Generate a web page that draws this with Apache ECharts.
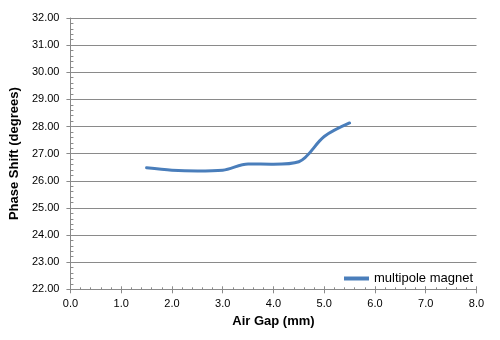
<!DOCTYPE html>
<html>
<head>
<meta charset="utf-8">
<script src="https://cdn.jsdelivr.net/npm/echarts@6/dist/echarts.min.js"></script>
<style>
  html, body { margin: 0; padding: 0; background: #fff; }
  #chart { width: 500px; height: 340px; }
</style>
</head>
<body>
<div id="chart"></div>
<script>
// Phase shift measured against air gap
const airGap = [1.5, 2.0, 2.5, 3.0, 3.5, 4.0, 4.5, 5.0, 5.5];
const phaseShift = [26.48, 26.39, 26.36, 26.39, 26.62, 26.61, 26.70, 27.63, 28.13];
const seriesName = 'multipole magnet';

const font = 'Liberation Sans, Arial, sans-serif';
const gridColor = '#8a8a8a';

// A second, label-less copy of each axis draws the inner tick marks,
// so major ticks cross the axis line and minor ticks sit inside the plot.
const xRange = { type: 'value', min: 0, max: 8, interval: 1 };
const yRange = { type: 'value', min: 22, max: 32, interval: 1 };

const chart = echarts.init(document.getElementById('chart'), null, { renderer: 'canvas' });
chart.setOption({
  animation: false,
  backgroundColor: '#ffffff',
  grid: { left: 67, top: 18, right: 23.5, bottom: 50.7, containLabel: false },
  legend: {
    data: [{ name: seriesName, icon: 'rect' }],
    right: 22,
    top: 267,
    itemWidth: 25,
    itemHeight: 4,
    itemGap: 6,
    textStyle: { fontFamily: font, fontSize: 13, color: '#000' }
  },
  xAxis: [{
    ...xRange,
    position: 'bottom',
    name: 'Air Gap (mm)',
    nameLocation: 'middle',
    nameGap: 26,
    nameTextStyle: { fontFamily: font, fontSize: 13, fontWeight: 'bold', color: '#000' },
    axisLine: { show: true, lineStyle: { color: gridColor, width: 1 } },
    axisTick: { show: true, length: 4, lineStyle: { color: gridColor } },
    splitLine: { show: false },
    axisLabel: {
      fontFamily: font, fontSize: 11, color: '#000', margin: 9,
      formatter: v => v.toFixed(1)
    }
  }, {
    ...xRange,
    position: 'bottom',
    axisLine: { show: false },
    axisLabel: { show: false },
    splitLine: { show: false },
    axisTick: { show: true, inside: true, length: 3, lineStyle: { color: gridColor } },
    minorTick: { show: true, splitNumber: 5, length: 2, lineStyle: { color: gridColor } }
  }],
  yAxis: [{
    ...yRange,
    position: 'left',
    name: 'Phase Shift (degrees)',
    nameLocation: 'middle',
    nameGap: 40,
    nameRotate: 90,
    nameTextStyle: { fontFamily: font, fontSize: 13, fontWeight: 'bold', color: '#000' },
    axisLine: { show: true, lineStyle: { color: gridColor, width: 1 } },
    axisTick: { show: true, length: 4, lineStyle: { color: gridColor } },
    splitLine: { show: true, lineStyle: { color: gridColor, width: 1 } },
    axisLabel: {
      fontFamily: font, fontSize: 11, color: '#000', margin: 11,
      formatter: v => v.toFixed(2)
    }
  }, {
    ...yRange,
    position: 'left',
    axisLine: { show: false },
    axisLabel: { show: false },
    splitLine: { show: false },
    axisTick: { show: false, inside: true, length: 3, lineStyle: { color: gridColor } },
    minorTick: { show: true, splitNumber: 5, length: 3, lineStyle: { color: gridColor } }
  }],
  series: [{
    name: seriesName,
    type: 'line',
    xAxisIndex: 0,
    yAxisIndex: 0,
    data: airGap.map((x, i) => [x, phaseShift[i]]),
    smooth: 0.33,
    showSymbol: false,
    symbol: 'none',
    lineStyle: { color: '#4A7EBB', width: 3, cap: 'round', join: 'round' },
    itemStyle: { color: '#4A7EBB' }
  }]
});
</script>
</body>
</html>
